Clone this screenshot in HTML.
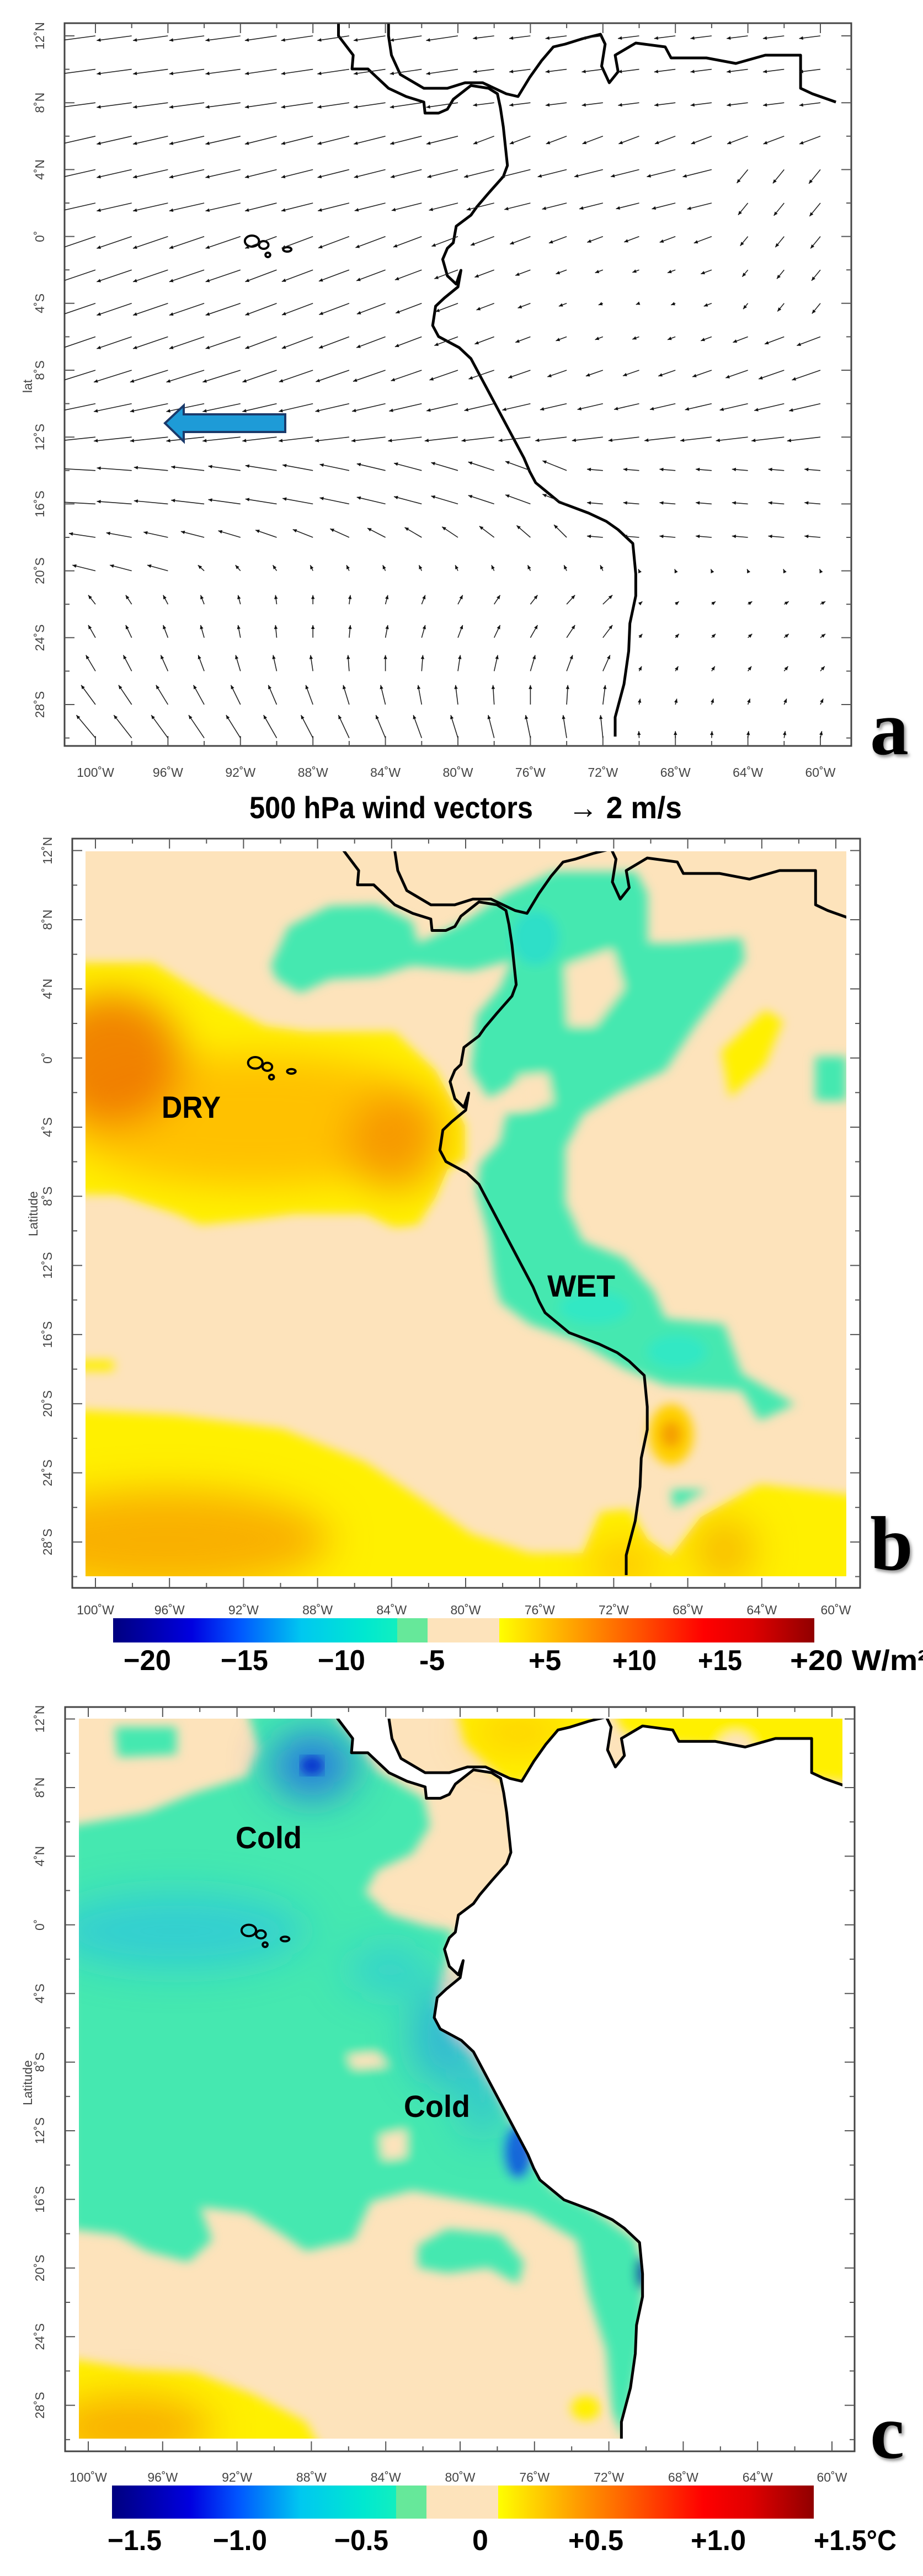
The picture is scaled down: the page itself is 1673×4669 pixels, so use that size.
<!DOCTYPE html>
<html><head><meta charset="utf-8">
<style>
html,body{margin:0;padding:0;background:#fff;}
svg{display:block;}
.tl{font-family:"Liberation Sans",sans-serif;font-size:23px;fill:#444;}
.cb{font-family:"Liberation Sans",sans-serif;font-weight:bold;font-size:52px;fill:#000;}
.big{font-family:"Liberation Sans",sans-serif;font-weight:bold;font-size:56px;fill:#000;}
.let{font-family:"Liberation Serif",serif;font-weight:bold;font-size:140px;fill:#000;}
</style></head>
<body>
<svg id="s" width="1673" height="4669" viewBox="0 0 1673 4669" xmlns="http://www.w3.org/2000/svg">
<defs>
<filter id="bl" x="-5%" y="-5%" width="110%" height="110%"><feGaussianBlur stdDeviation="9"/></filter>
<filter id="bl2" x="-50%" y="-50%" width="200%" height="200%"><feGaussianBlur stdDeviation="35"/></filter>
<filter id="sh" x="-20%" y="-20%" width="140%" height="140%"><feDropShadow dx="3" dy="4" stdDeviation="3" flood-color="#777" flood-opacity="0.8"/></filter>
<clipPath id="cb"><rect x="155" y="1543" width="1379" height="1314"/></clipPath>
<clipPath id="cc"><rect x="143" y="3115" width="1384" height="1305"/></clipPath>
<clipPath id="ca"><rect x="117" y="42" width="1426" height="1310"/></clipPath>
<clipPath id="dryb"><polygon transform="translate(0,1560) scale(1.067,1)" points="130,185 260,185 360,250 450,300 520,310 670,310 740,380 790,480 790,540 760,560 740,610 710,660 670,665 620,640 500,640 430,650 340,660 300,640 200,605 130,605"/></clipPath>
<clipPath id="botb"><polygon transform="translate(0,1560) scale(1.067,1)" points="130,995 300,1005 480,1030 620,1090 720,1160 800,1220 900,1255 990,1255 1020,1180 1070,1175 1100,1230 1140,1260 1190,1190 1290,1130 1450,1150 1450,1320 130,1320"/></clipPath>
<linearGradient id="gneg" x1="0" x2="1" y1="0" y2="0">
<stop offset="0" stop-color="#00007F"/><stop offset="0.25" stop-color="#0000E0"/><stop offset="0.4" stop-color="#0055FF"/>
<stop offset="0.6" stop-color="#00C8F0"/><stop offset="0.8" stop-color="#00E8D0"/><stop offset="1" stop-color="#22F5B0"/></linearGradient>
<linearGradient id="gpos" x1="0" x2="1" y1="0" y2="0">
<stop offset="0" stop-color="#FFFF00"/><stop offset="0.2" stop-color="#FFB000"/><stop offset="0.45" stop-color="#FF5000"/>
<stop offset="0.65" stop-color="#FF0000"/><stop offset="0.8" stop-color="#E00000"/><stop offset="1" stop-color="#900000"/></linearGradient>
</defs>

<!-- PANEL B FIELD -->
<g clip-path="url(#cb)">
<rect x="155" y="1543" width="1379" height="1314" fill="#FDE3BB"/>
<g transform="translate(0,1560) scale(1.067,1)" filter="url(#bl)">
<polygon fill="#FFF000" points="130,185 260,185 360,250 450,300 520,310 670,310 740,380 790,480 790,540 760,560 740,610 710,660 670,665 620,640 500,640 430,650 340,660 300,640 200,605 130,605"/>
<polygon fill="#FFF000" points="130,995 300,1005 480,1030 620,1090 720,1160 800,1220 900,1255 990,1255 1020,1180 1070,1175 1100,1230 1140,1260 1190,1190 1290,1130 1450,1150 1450,1320 130,1320"/>
<ellipse cx="1140" cy="1040" rx="38" ry="55" fill="#FFD000"/>
<ellipse cx="1140" cy="1040" rx="18" ry="25" fill="#F5A000"/>
<polygon fill="#FFF000" points="1225,345 1300,270 1330,290 1300,370 1240,430"/>
<rect x="130" y="905" width="63" height="20" fill="#FFF000"/>
<polygon fill="#44E8B0" points="460,190 490,120 560,82 640,80 700,110 710,150 790,110 860,60 940,20 1080,20 1100,60 1100,150 1150,150 1260,140 1265,180 1230,230 1180,300 1130,380 1050,420 990,460 960,520 960,620 990,690 1060,720 1110,780 1130,830 1230,840 1260,930 1350,985 1290,1015 1260,960 1130,950 1060,920 980,870 900,840 850,800 840,760 830,680 810,600 815,550 850,510 860,460 920,450 880,400 830,430 800,380 810,280 850,230 870,180 800,200 700,190 640,210 560,215 510,240 470,215"/>
<polygon fill="#FDE3BB" points="960,190 1040,160 1060,230 1010,300 965,300"/>
<polygon fill="#FDE3BB" points="880,390 930,385 940,440 880,450"/>
<rect x="1385" y="355" width="53" height="80" fill="#44E8B0"/>
<polygon fill="#44E8B0" points="1140,1140 1200,1140 1145,1175"/>
<ellipse cx="910" cy="140" rx="40" ry="50" fill="#20D8D8" opacity="0.6"/>
<ellipse cx="1010" cy="810" rx="60" ry="30" fill="#20E8D8" opacity="0.5"/>
<ellipse cx="1150" cy="890" rx="50" ry="30" fill="#20E8D8" opacity="0.5"/>
</g>
<g clip-path="url(#dryb)"><g transform="translate(0,1560) scale(1.067,1)" filter="url(#bl2)">
<ellipse cx="430" cy="470" rx="330" ry="120" fill="#FFB800" opacity="0.85"/>
<ellipse cx="190" cy="360" rx="120" ry="120" fill="#F07800" opacity="0.9"/>
<ellipse cx="670" cy="510" rx="80" ry="90" fill="#F59000" opacity="0.8"/>
</g></g>
<g clip-path="url(#botb)"><g transform="translate(0,1560) scale(1.067,1)" filter="url(#bl2)">
<ellipse cx="280" cy="1230" rx="280" ry="90" fill="#F7A000" opacity="0.8"/>
<ellipse cx="1060" cy="1275" rx="60" ry="40" fill="#FFB000" opacity="0.7"/>
<ellipse cx="1230" cy="1250" rx="50" ry="60" fill="#F5A000" opacity="0.7"/>
</g></g>
</g>

<!-- PANEL C FIELD -->
<g clip-path="url(#cc)">
<rect x="143" y="3115" width="1384" height="1305" fill="#FDE3BB"/>
<g transform="translate(0,3110) scale(1.067,1)" filter="url(#bl)">
<polygon fill="#44E8B0" points="120,200 250,175 330,140 420,110 440,60 420,-10 560,-10 600,40 640,100 720,150 730,200 700,250 640,280 620,320 660,360 720,380 770,390 760,430 740,520 760,580 800,620 850,700 900,800 940,860 1000,890 1080,950 1090,1000 1095,1100 1080,1200 1060,1310 1040,1260 1030,1150 1000,1050 980,950 900,900 800,880 700,860 630,880 600,950 520,970 480,940 420,900 340,890 360,950 320,990 250,970 200,940 120,930"/>
<polygon fill="#44E8B0" points="195,20 300,20 300,70 200,75"/>
<polygon fill="#FDE3BB" points="590,615 640,610 660,635 600,640"/>
<polygon fill="#FDE3BB" points="645,760 690,750 690,800 650,805"/>
<polygon fill="#44E8B0" points="710,960 760,930 850,940 890,990 880,1030 830,1000 760,1010 710,1000"/>
<ellipse cx="880" cy="790" rx="25" ry="50" fill="#1050E0" opacity="0.85"/>
<ellipse cx="1090" cy="1010" rx="10" ry="30" fill="#0010A0"/>
<polygon fill="#FFF000" points="120,1165 230,1185 330,1190 430,1230 520,1280 545,1330 120,1330"/>
<ellipse cx="995" cy="1255" rx="25" ry="22" fill="#FFF000"/>
<polygon fill="#FFF000" points="775,-10 1025,-10 960,70 905,100 880,130 850,110 790,50"/>
<polygon fill="#FFF000" points="1040,-10 1445,-10 1445,120 1360,110 1300,60 1150,50 1060,30"/>
<ellipse cx="1250" cy="60" rx="30" ry="30" fill="#FDE3BB"/>
</g>
<g transform="translate(0,3110) scale(1.067,1)" filter="url(#bl2)">
<ellipse cx="300" cy="390" rx="220" ry="70" fill="#1EB8F0" opacity="0.5"/>
<ellipse cx="660" cy="460" rx="70" ry="45" fill="#1EB8F0" opacity="0.45"/>
<ellipse cx="750" cy="580" rx="50" ry="90" fill="#1E90F0" opacity="0.55"/>
<ellipse cx="820" cy="690" rx="40" ry="80" fill="#1EA0F0" opacity="0.45"/>
<ellipse cx="530" cy="90" rx="70" ry="60" fill="#1E60E8" opacity="0.8"/>
<ellipse cx="220" cy="1290" rx="140" ry="60" fill="#F7A000" opacity="0.8"/>
<ellipse cx="880" cy="30" rx="80" ry="35" fill="#FFC000" opacity="0.7"/>
</g>
<g transform="translate(0,3110) scale(1.067,1)" filter="url(#bl)">
<ellipse cx="530" cy="90" rx="20" ry="18" fill="#0022CC" opacity="0.8"/>
</g>
<g transform="matrix(1.0946,0,0,1.0323,-17.5,3047.8)">
<polygon id="land" fill="#fff" points=""/>
</g>
</g>

<g id="gen"></g>

<!-- blue arrow -->
<polygon points="299,767 333,735 333,751 517,751 517,783 333,783 333,800" fill="#1E9BD7" stroke="#1B3A6B" stroke-width="4" stroke-linejoin="miter"/>

<!-- titles / labels -->
<text class="big" x="452" y="1483" textLength="514" lengthAdjust="spacingAndGlyphs" font-size="52">500 hPa wind vectors</text>
<text class="big" x="1030" y="1483" textLength="206" lengthAdjust="spacingAndGlyphs" font-size="52">→ 2 m/s</text>
<text class="tl" font-size="30" transform="translate(58,700) rotate(-90)" text-anchor="middle">lat</text>
<text class="tl" font-size="30" transform="translate(68,2200) rotate(-90)" text-anchor="middle">Latitude</text>
<text class="tl" font-size="30" transform="translate(58,3775) rotate(-90)" text-anchor="middle">Latitude</text>

<text class="big" x="293" y="2026" textLength="107" lengthAdjust="spacingAndGlyphs">DRY</text>
<text class="big" x="992" y="2350" textLength="123" lengthAdjust="spacingAndGlyphs">WET</text>
<text class="big" x="427" y="3350" textLength="120" lengthAdjust="spacingAndGlyphs">Cold</text>
<text class="big" x="732" y="3837" textLength="120" lengthAdjust="spacingAndGlyphs">Cold</text>

<text class="let" x="1577" y="1367" filter="url(#sh)">a</text>
<text class="let" x="1577" y="2845" filter="url(#sh)">b</text>
<text class="let" x="1577" y="4455" filter="url(#sh)">c</text>

<!-- colorbar b -->
<rect x="205" y="2933" width="570" height="44" fill="url(#gneg)"/>
<rect x="720" y="2933" width="55" height="44" fill="#66E89A"/>
<rect x="775" y="2933" width="130" height="44" fill="#FDE3BB"/>
<rect x="905" y="2933" width="571" height="44" fill="url(#gpos)"/>
<text class="cb" x="224" y="3027" textLength="86" lengthAdjust="spacingAndGlyphs">−20</text>
<text class="cb" x="400" y="3027" textLength="86" lengthAdjust="spacingAndGlyphs">−15</text>
<text class="cb" x="576" y="3027" textLength="86" lengthAdjust="spacingAndGlyphs">−10</text>
<text class="cb" x="760" y="3027">-5</text>
<text class="cb" x="958" y="3027">+5</text>
<text class="cb" x="1110" y="3027" textLength="80" lengthAdjust="spacingAndGlyphs">+10</text>
<text class="cb" x="1265" y="3027" textLength="80" lengthAdjust="spacingAndGlyphs">+15</text>
<text class="cb" x="1432" y="3027" textLength="250" lengthAdjust="spacingAndGlyphs">+20 W/m²</text>

<!-- colorbar c -->
<rect x="203" y="4505" width="570" height="60" fill="url(#gneg)"/>
<rect x="718" y="4505" width="55" height="60" fill="#66E89A"/>
<rect x="773" y="4505" width="130" height="60" fill="#FDE3BB"/>
<rect x="903" y="4505" width="572" height="60" fill="url(#gpos)"/>
<text class="cb" x="195" y="4622" textLength="98" lengthAdjust="spacingAndGlyphs">−1.5</text>
<text class="cb" x="386" y="4622" textLength="98" lengthAdjust="spacingAndGlyphs">−1.0</text>
<text class="cb" x="606" y="4622" textLength="98" lengthAdjust="spacingAndGlyphs">−0.5</text>
<text class="cb" x="856" y="4622">0</text>
<text class="cb" x="1030" y="4622" textLength="100" lengthAdjust="spacingAndGlyphs">+0.5</text>
<text class="cb" x="1252" y="4622" textLength="100" lengthAdjust="spacingAndGlyphs">+1.0</text>
<text class="cb" x="1475" y="4622" textLength="150" lengthAdjust="spacingAndGlyphs">+1.5°C</text>
</svg>

<script>
(function(){
var NS="http://www.w3.org/2000/svg";
var gen=document.getElementById("gen");
function el(t,a,p){var e=document.createElementNS(NS,t);for(var k in a)e.setAttribute(k,a[k]);(p||gen).appendChild(e);return e;}
var pac=[[575,40],[575,65],[600,100],[598,125],[625,125],[660,160],[690,175],[720,185],[722,205],[745,205],[760,198],[770,180],[800,155],[830,160],[845,170],[850,195],[855,230],[858,260],[862,300],[855,320],[830,350],[810,375],[800,390],[775,410],[770,440],[760,450],[752,470],[760,500],[775,515],[783,490],[778,520],[755,540],[740,555],[735,590],[745,610],[780,630],[800,650],[820,690],[840,730],[860,770],[875,800],[890,830],[900,855],[910,875],[950,910],[1000,930],[1030,945],[1050,960],[1075,985],[1080,1040],[1080,1080],[1070,1130],[1068,1180],[1060,1240],[1050,1280],[1045,1300],[1045,1335]];
var car=[[660,40],[660,65],[665,100],[680,135],[720,160],[760,160],[790,150],[820,150],[860,170],[880,175],[900,140],[920,110],[940,85],[960,80],[990,70],[1020,62],[1028,80],[1022,120],[1035,150],[1050,130],[1045,100],[1080,78],[1130,85],[1140,105],[1200,105],[1250,115],[1300,100],[1360,100],[1360,160],[1380,170],[1420,185]];
function ps(a){return a.map(function(p){return p[0]+","+p[1];}).join(" ");}
var land=pac.concat([[1045,1400],[1500,1400],[1500,185]]).concat(car.slice().reverse());
document.getElementById("land").setAttribute("points",ps(land));
var T={a:"matrix(1.067,0,0,1,0,0)",b:"matrix(1.0897,0,0,1.034,-3.68,1474.5)",c:"matrix(1.0946,0,0,1.0323,-17.5,3047.8)"};
var clips={a:"url(#ca)",b:"url(#cb)",c:"url(#cc)"};
for(var k in T){
 var g0=el("g",{"clip-path":clips[k]});
 var g=el("g",{transform:T[k]},g0);
 [pac,car].forEach(function(l){el("polyline",{points:ps(l),fill:"none",stroke:"#000","stroke-width":"5","vector-effect":"non-scaling-stroke","stroke-linejoin":"round"},g);});
 [[428,437,12,10],[448,444,8,7],[455,462,4,4],[488,452,7,4]].forEach(function(e){el("ellipse",{cx:e[0],cy:e[1],rx:e[2],ry:e[3],fill:"none",stroke:"#000","stroke-width":"4","vector-effect":"non-scaling-stroke"},g);});
}
var P=[
 {f:[117,42,1543,1352],X:function(l){return 173+32.85*(l+100);},Y:function(t){return 65+30.3*(12-t);},lx:80,ly:1408},
 {f:[131,1520,1559,2878],X:function(l){return 173+33.55*(l+100);},Y:function(t){return 1667+31.33*(8-t);},lx:94,ly:2926},
 {f:[118,3094,1549,4443],X:function(l){return 160+33.7*(l+100);},Y:function(t){return 3240+31.1*(8-t);},lx:80,ly:4498}];
P.forEach(function(p){
 var f=p.f;
 el("rect",{x:f[0],y:f[1],width:f[2]-f[0],height:f[3]-f[1],fill:"none",stroke:"#444","stroke-width":"3"});
 for(var lon=-100;lon<=-60;lon+=2){
  var x=p.X(lon),L=(lon%4==0)?18:9;
  el("line",{x1:x,y1:f[1],x2:x,y2:f[1]+L,stroke:"#555","stroke-width":"2"});
  el("line",{x1:x,y1:f[3],x2:x,y2:f[3]-L,stroke:"#555","stroke-width":"2"});
  if(lon%4==0){var t=el("text",{x:x,y:p.ly,"class":"tl","text-anchor":"middle"});t.textContent=(-lon)+"˚W";}
 }
 for(var lat=12;lat>=-30;lat-=2){
  var y=p.Y(lat);if(y<f[1]||y>f[3])continue;var L=(lat%4==0)?18:9;
  el("line",{x1:f[0],y1:y,x2:f[0]+L,y2:y,stroke:"#555","stroke-width":"2"});
  el("line",{x1:f[2],y1:y,x2:f[2]-L,y2:y,stroke:"#555","stroke-width":"2"});
  if(lat%4==0){var s=lat>0?lat+"˚N":(lat<0?(-lat)+"˚S":"0˚");
   var t=el("text",{"class":"tl","text-anchor":"middle",transform:"translate("+p.lx+","+y+") rotate(-90)"});t.textContent=s;}
 }
});
function field(lon,lat){
 var u,v;
 if(lat>=-12){
  u=-2.4;
  if(lat>=8)v=-0.35;else if(lat>=2)v=-0.6;else v=-0.9;
  if(lat<=-8){u=-2.6;v=-0.9+(-8-lat)*0.15;}
  if(lon>-80&&lat>4){u=-1.6;v=(lat<8)?-0.6:-0.2;}
  if(lon>-66&&lat<=4&&lat>=-4){u=-0.9;v=-1.1;}
  var calm=Math.exp(-((lon+70)*(lon+70)/90+(lat+4)*(lat+4)/30));
  var s=1-0.9*calm;u*=s;v*=s;
  if(lon<-90){u*=1.1;}
 }else if(lat>-19){
  var w=(lon+100)/40;
  u=-2.7*(1-0.5*w);v=0.15+0.9*w;
  if(lat<=-18){u=-2.0*(1-0.8*w);v=0.3+1.0*w;}
  if(lon>-74){u=-1.2;v=0.1;}
 }else{
  var d=-19-lat;
  v=0.3+0.13*d;
  u=0.045*(lon+88)-0.18*(lat<-25?(-25-lat):0);
  if(lat>-21){u=Math.min(u,0)-(lon<-94?1.2:0.2);}
  if(lon>-72){u*=0.3;v*=0.3;}
 }
 return [u,v];
}
var ga=el("g",{"clip-path":"url(#ca)"});
var K=24;
for(var lat=12;lat>=-30;lat-=2){for(var lon=-100;lon<=-60;lon+=2){
 var x=173+32.85*(lon+100),y=65+30.3*(12-lat);
 var uv=field(lon,lat),dx=uv[0]*K,dy=-uv[1]*K,len=Math.sqrt(dx*dx+dy*dy);
 var hx=x+dx,hy=y+dy;
 if(len>3)el("line",{x1:x,y1:y,x2:hx,y2:hy,stroke:"#222","stroke-width":"1.6"},ga);
 var ux=len>0?dx/len:-1,uy=len>0?dy/len:0,h=7,wd=3.2;
 var bx=hx-ux*h,by=hy-uy*h;
 el("polygon",{points:hx+","+hy+" "+(bx-uy*wd)+","+(by+ux*wd)+" "+(bx+uy*wd)+","+(by-ux*wd),fill:"#111"},ga);
}}
})();
</script>
</body></html>
